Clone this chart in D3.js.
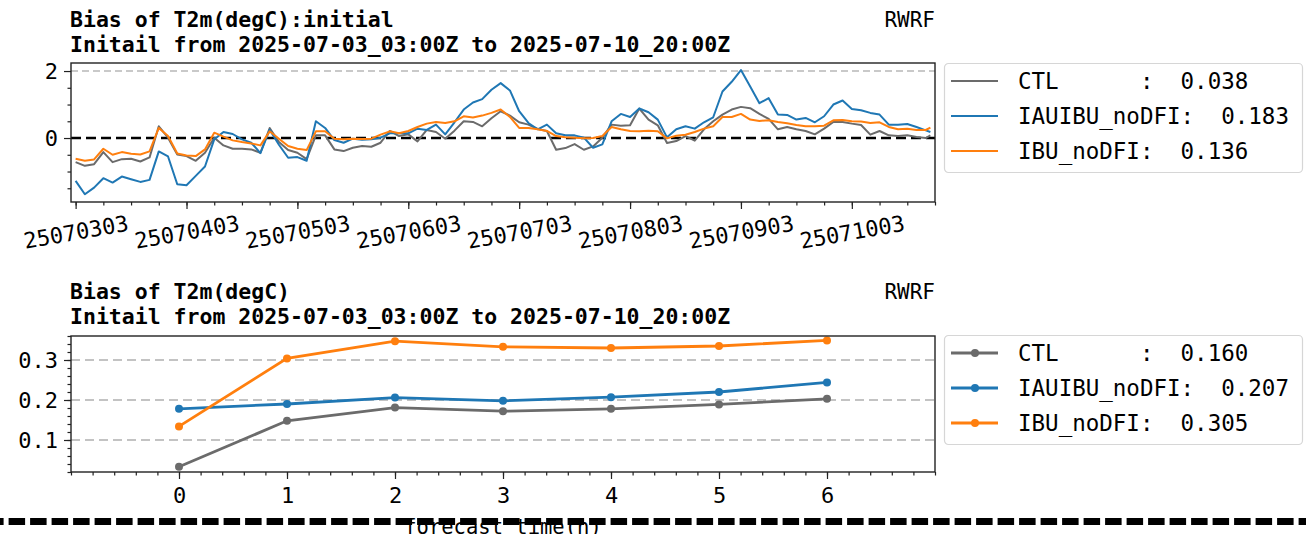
<!DOCTYPE html>
<html>
<head>
<meta charset="utf-8">
<script src="https://cdn.jsdelivr.net/npm/d3@7"></script>
<style>
  html, body { margin: 0; padding: 0; background: #fff; }
  svg { display: block; }
  text { font-family: "DejaVu Sans Mono", monospace; fill: #000; }
</style>
</head>
<body>
<div id="canvas"></div>
<script>
// ---- data: bias of T2m by initial time (every 2 h from 2025-07-03 03Z) ----
var startTime = Date.UTC(2025, 6, 3, 3);
var hours = d3.range(0, 185, 2).concat([185]);

var ctlInit = [
  -0.72, -0.83, -0.78, -0.42, -0.72, -0.63, -0.62, -0.70, -0.58, 0.35, 0.01, -0.49, -0.54, -0.68, -0.44, 0.01,
  -0.22, -0.32, -0.32, -0.34, -0.44, 0.30, -0.12, -0.36, -0.44, -0.63, 0.08, 0.08, -0.34, -0.39, -0.29, -0.24,
  -0.26, -0.14, 0.21, 0.06, 0.11, -0.10, 0.24, 0.18, -0.02, 0.22, 0.50, 0.48, 0.35, 0.59, 0.80, 0.67,
  0.47, 0.40, 0.27, 0.21, -0.35, -0.30, -0.18, -0.35, -0.25, 0.01, 0.40, 0.37, 0.38, 0.88,
  0.55, 0.38, -0.15, -0.09, 0.06, -0.08, 0.26, 0.50, 0.70, 0.85, 0.93, 0.89, 0.72, 0.57, 0.26, 0.33,
  0.26, 0.21, 0.11, 0.28, 0.48, 0.48, 0.43, 0.39, 0.10, 0.21, 0.08, 0.06, 0.08, 0.03, 0.00, 0.08
];
var iauInit = [
  -1.28, -1.68, -1.48, -1.20, -1.33, -1.15, -1.23, -1.31, -1.25, -0.40, -0.55, -1.38, -1.41, -1.13, -0.85, -0.04,
  0.18, 0.12, -0.04, -0.14, -0.45, 0.25, -0.20, -0.59, -0.57, -0.68, 0.50, 0.30, -0.06, -0.14, -0.02, -0.05,
  -0.04, 0.01, 0.14, 0.14, 0.14, 0.28, 0.24, 0.40, 0.11, 0.47, 0.85, 1.06, 1.16, 1.44, 1.64, 1.42,
  0.80, 0.45, 0.26, 0.40, 0.14, 0.08, 0.08, 0.01, -0.29, -0.19, 0.50, 0.72, 0.63, 0.88,
  0.77, 0.55, 0.02, 0.26, 0.35, 0.28, 0.47, 0.62, 1.39, 1.68, 2.03, 1.54, 1.04, 1.19, 0.70, 0.69,
  0.55, 0.60, 0.47, 0.65, 1.00, 1.12, 0.87, 0.83, 0.75, 0.70, 0.40, 0.40, 0.42, 0.33, 0.23, 0.18
];
var ibuInit = [
  -0.62, -0.68, -0.64, -0.32, -0.50, -0.42, -0.47, -0.49, -0.40, 0.30, 0.06, -0.46, -0.52, -0.54, -0.34, 0.16,
  0.04, -0.07, -0.12, -0.16, -0.22, 0.20, -0.02, -0.24, -0.32, -0.36, 0.20, 0.20, -0.02, -0.04, -0.02, -0.03,
  -0.02, 0.10, 0.20, 0.14, 0.21, 0.33, 0.43, 0.48, 0.45, 0.50, 0.65, 0.61, 0.67, 0.75, 0.85, 0.63,
  0.30, 0.30, 0.26, 0.21, 0.06, 0.02, 0.01, -0.01, 0.00, 0.06, 0.33, 0.26, 0.21, 0.20,
  0.22, 0.20, -0.01, 0.07, 0.10, 0.18, 0.28, 0.35, 0.63, 0.63, 0.72, 0.55, 0.51, 0.53, 0.48, 0.44,
  0.39, 0.35, 0.35, 0.37, 0.53, 0.54, 0.50, 0.49, 0.45, 0.47, 0.33, 0.26, 0.28, 0.24, 0.24, 0.31
];

// ---- data: bias by forecast time ----
var fcstHours = [0, 1, 2, 3, 4, 5, 6];
var ctlFcst = [0.033, 0.148, 0.181, 0.172, 0.178, 0.189, 0.203];
var iauFcst = [0.178, 0.190, 0.206, 0.198, 0.207, 0.220, 0.244];
var ibuFcst = [0.134, 0.304, 0.347, 0.333, 0.330, 0.335, 0.349];

var seriesNames = ["CTL", "IAUIBU_noDFI", "IBU_noDFI"];
var seriesColors = ["#6b6b6b", "#1f77b4", "#ff7f0e"];
var initMeans = ["0.038", "0.183", "0.136"];
var fcstMeans = ["0.160", "0.207", "0.305"];

var W = 1306, H = 534;
var left = 71, right = 935;

var svg = d3.select("#canvas").append("svg")
    .attr("width", W)
    .attr("height", H);

function titles(y0, line1) {
    svg.append("text").attr("x", 70).attr("y", y0)
        .attr("font-size", 21.5).attr("font-weight", "bold").text(line1);
    svg.append("text").attr("x", 70).attr("y", y0 + 25)
        .attr("font-size", 21.5).attr("font-weight", "bold")
        .text("Initail from 2025-07-03_03:00Z to 2025-07-10_20:00Z");
    svg.append("text").attr("x", right).attr("y", y0)
        .attr("font-size", 21).attr("text-anchor", "end").text("RWRF");
}

function styleAxis(g) {
    g.select(".domain").remove();
    g.selectAll(".tick line").attr("stroke", "#222").attr("stroke-width", 1.2);
    g.selectAll("text").attr("font-family", "DejaVu Sans Mono").attr("font-size", 22).attr("fill", "#000");
}

function legend(y0, means, markers) {
    var lg = svg.append("g").attr("transform", "translate(944," + y0 + ")");
    lg.append("rect").attr("x", 0.5).attr("y", 0.5).attr("width", 358).attr("height", 109)
        .attr("rx", 4).attr("fill", "#fff").attr("stroke", "#d6d6d6").attr("stroke-width", 1.2);
    seriesNames.forEach(function(name, i) {
        var cy = 18 + i * 35;
        lg.append("line").attr("x1", 7).attr("x2", 54).attr("y1", cy).attr("y2", cy)
            .attr("stroke", seriesColors[i]).attr("stroke-width", markers ? 2.8 : 2);
        if (markers) {
            lg.append("circle").attr("cx", 31).attr("cy", cy).attr("r", 4).attr("fill", seriesColors[i]);
        }
        lg.append("text").attr("x", 74).attr("y", cy).attr("dy", "0.36em")
            .attr("font-size", 22.5).style("white-space", "pre")
            .text(name.padEnd(9) + ":  " + means[i]);
    });
}

// =================== top panel ===================
var top1 = 63, bot1 = 202;
titles(27, "Bias of T2m(degC):initial");

var xTime = d3.scaleUtc()
    .domain([new Date(startTime - 3600e3), new Date(startTime + 186 * 3600e3)])
    .range([left, right]);
var y1 = d3.scaleLinear().domain([-1.91, 2.24]).range([bot1, top1]);

var g1 = svg.append("g");

// grid at major y ticks
g1.append("line").attr("x1", left).attr("x2", right).attr("y1", y1(2)).attr("y2", y1(2))
    .attr("stroke", "#b8b8b8").attr("stroke-width", 1.5).attr("stroke-dasharray", "7,4");

var majorDays = d3.range(0, 8).map(function(d) { return new Date(startTime + d * 86400e3); });
var minorHours = d3.range(0, 187, 6).map(function(h) { return new Date(startTime + h * 3600e3); });

g1.append("g").attr("transform", "translate(0," + bot1 + ")")
    .call(d3.axisBottom(xTime).tickValues(minorHours).tickSize(3.5).tickFormat(""))
    .call(styleAxis);
var xa1 = g1.append("g").attr("transform", "translate(0," + bot1 + ")")
    .call(d3.axisBottom(xTime).tickValues(majorDays).tickSize(7).tickFormat(d3.utcFormat("%y%m%d%H")))
    .call(styleAxis);
xa1.selectAll(".tick text")
    .attr("y", 0).attr("dy", "0.35em").attr("text-anchor", "middle")
    .attr("transform", "translate(0,30) rotate(-10)");

g1.append("g").attr("transform", "translate(" + left + ",0)")
    .call(d3.axisLeft(y1).tickValues([-1.5, -1, -0.5, 0.5, 1, 1.5]).tickSize(3.5).tickFormat(""))
    .call(styleAxis);
var ya1 = g1.append("g").attr("transform", "translate(" + left + ",0)")
    .call(d3.axisLeft(y1).tickValues([0, 2]).tickSize(7).tickPadding(6).tickFormat(d3.format("d")))
    .call(styleAxis);

// zero reference
g1.append("line").attr("x1", left).attr("x2", right).attr("y1", y1(0)).attr("y2", y1(0))
    .attr("stroke", "#000").attr("stroke-width", 2.5).attr("stroke-dasharray", "10,5");

var line1 = d3.line()
    .x(function(d, i) { return xTime(new Date(startTime + hours[i] * 3600e3)); })
    .y(function(d) { return y1(d); });

[ctlInit, iauInit, ibuInit].forEach(function(s, i) {
    g1.append("path").datum(s).attr("d", line1)
        .attr("fill", "none").attr("stroke", seriesColors[i])
        .attr("stroke-width", 2).attr("stroke-linejoin", "round");
});

g1.append("rect").attr("x", left).attr("y", top1).attr("width", right - left).attr("height", bot1 - top1)
    .attr("fill", "none").attr("stroke", "#222").attr("stroke-width", 1.4);

legend(63, initMeans, false);

// =================== bottom panel ===================
var top2 = 336, bot2 = 472;
titles(299, "Bias of T2m(degC)");

var xF = d3.scaleLinear().domain([-1, 7]).range([left, right]);
var y2 = d3.scaleLinear().domain([0.02, 0.36]).range([bot2, top2]);

var g2 = svg.append("g");

[0.1, 0.2, 0.3].forEach(function(v) {
    g2.append("line").attr("x1", left).attr("x2", right).attr("y1", y2(v)).attr("y2", y2(v))
        .attr("stroke", "#b0b0b0").attr("stroke-width", 1.5).attr("stroke-dasharray", "9,5");
});

g2.append("g").attr("transform", "translate(0," + bot2 + ")")
    .call(d3.axisBottom(xF).tickValues(d3.range(-1, 7.01, 0.2)).tickSize(3.5).tickFormat(""))
    .call(styleAxis);
var xa2 = g2.append("g").attr("transform", "translate(0," + bot2 + ")")
    .call(d3.axisBottom(xF).tickValues(fcstHours).tickSize(7).tickFormat(d3.format("d")))
    .call(styleAxis);
xa2.selectAll(".tick text").attr("y", 31).attr("dy", 0);

g2.append("g").attr("transform", "translate(" + left + ",0)")
    .call(d3.axisLeft(y2).tickValues(d3.range(0.02, 0.361, 0.02)).tickSize(3.5).tickFormat(""))
    .call(styleAxis);
g2.append("g").attr("transform", "translate(" + left + ",0)")
    .call(d3.axisLeft(y2).tickValues([0.1, 0.2, 0.3]).tickSize(7).tickPadding(6).tickFormat(d3.format(".1f")))
    .call(styleAxis);

var line2 = d3.line()
    .x(function(d, i) { return xF(fcstHours[i]); })
    .y(function(d) { return y2(d); });

[ctlFcst, iauFcst, ibuFcst].forEach(function(s, i) {
    g2.append("path").datum(s).attr("d", line2)
        .attr("fill", "none").attr("stroke", seriesColors[i]).attr("stroke-width", 2.8);
    g2.selectAll(null).data(s).enter().append("circle")
        .attr("cx", function(d, j) { return xF(fcstHours[j]); })
        .attr("cy", function(d) { return y2(d); })
        .attr("r", 4).attr("fill", seriesColors[i]);
});

g2.append("rect").attr("x", left).attr("y", top2).attr("width", right - left).attr("height", bot2 - top2)
    .attr("fill", "none").attr("stroke", "#222").attr("stroke-width", 1.4);

legend(335, fcstMeans, true);

// x label, partly hidden under the separator
svg.append("text").attr("x", (left + right) / 2).attr("y", 534)
    .attr("text-anchor", "middle").attr("font-size", 20.5).text("forecast time(h)");

svg.append("line").attr("x1", 0).attr("x2", W).attr("y1", 521.5).attr("y2", 521.5)
    .attr("stroke", "#000").attr("stroke-width", 7)
    .attr("stroke-dasharray", "16.5,5").attr("stroke-dashoffset", 12.9);
</script>
</body>
</html>
